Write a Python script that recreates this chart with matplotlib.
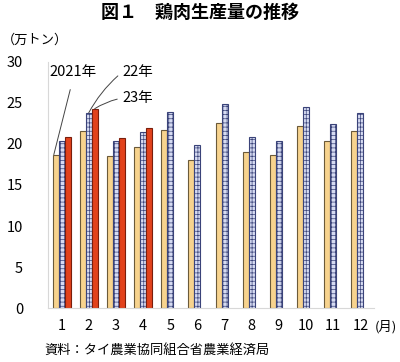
import matplotlib
matplotlib.use("Agg")
import matplotlib.pyplot as plt
import numpy as np

plt.rcParams['font.family'] = ['Noto Sans CJK JP', 'DejaVu Sans']
plt.rcParams['hatch.linewidth'] = 0.5

months = [1, 2, 3, 4, 5, 6, 7, 8, 9, 10, 11, 12]
y2021 = [18.7, 21.6, 18.5, 19.6, 21.7, 18.1, 22.6, 19.0, 18.6, 22.2, 20.4, 21.6]
y2022 = [20.4, 23.8, 20.3, 21.5, 23.9, 19.9, 24.9, 20.8, 20.4, 24.5, 22.4, 23.8]
y2023 = [20.9, 24.3, 20.7, 22.0]
yticks = [0, 5, 10, 15, 20, 25, 30]

fig = plt.figure(figsize=(4.0, 3.62), dpi=100)
ax = fig.add_axes([0.12, 0.149, 0.815, 0.68])

x = np.array(months, dtype=float)
w = 0.22
ax.bar(x - w, y2021, width=w, color='#F7D38E', edgecolor='#6B5A3A', linewidth=0.8)
ax.bar(x, y2022, width=w, color='#D6DBF2', edgecolor='#3A4379', linewidth=0.8, hatch='++++')
x23 = np.array(months[:len(y2023)], dtype=float)
ax.bar(x23 + w, y2023, width=w, color='#E2421C', edgecolor='#7A1E0C', linewidth=0.8)

ax.set_xlim(0.5, 12.5)
ax.set_ylim(0, 30)
ax.set_yticks(yticks)
ax.set_xticks(months)
ax.tick_params(axis='both', length=0, labelsize=10.5)
ax.tick_params(axis='y', pad=18)
ax.tick_params(axis='x', pad=8)
for s in ['top', 'right']:
    ax.spines[s].set_visible(False)
ax.spines['left'].set_color('#D8D8D8')
ax.spines['bottom'].set_color('#D8D8D8')

# annotations
ax.annotate('2021年', xy=(1 - w * 1.3, y2021[0]), xytext=(0.55, 28.8),
            fontsize=10.5, ha='left', va='center',
            arrowprops=dict(arrowstyle='-', color='#444444', lw=0.7,
                            shrinkA=6, shrinkB=0, relpos=(0.5, 0)))
ax.annotate('22年', xy=(2, y2022[1]), xytext=(3.25, 28.8),
            fontsize=10.5, ha='left', va='center',
            arrowprops=dict(arrowstyle='-', color='#444444', lw=0.7,
                            shrinkA=2, shrinkB=0, relpos=(0, 0.5),
                            connectionstyle='arc3,rad=0.1'))
ax.annotate('23年', xy=(2 + w, y2023[1]), xytext=(3.25, 25.6),
            fontsize=10.5, ha='left', va='center',
            arrowprops=dict(arrowstyle='-', color='#444444', lw=0.7,
                            shrinkA=2, shrinkB=0, relpos=(0, 0.5),
                            connectionstyle='arc3,rad=0.1'))

fig.text(0.5, 0.966, '図１　鶏肉生産量の推移', ha='center', va='center',
         fontsize=13, fontweight='bold')
fig.text(0.005, 0.89, '（万トン）', ha='left', va='center', fontsize=9.5)
fig.text(0.937, 0.097, '(月)', ha='left', va='center', fontsize=9.5)
fig.text(0.11, 0.033, '資料：タイ農業協同組合省農業経済局', ha='left', va='center', fontsize=9.5)

fig.savefig('out.png', dpi=100)
